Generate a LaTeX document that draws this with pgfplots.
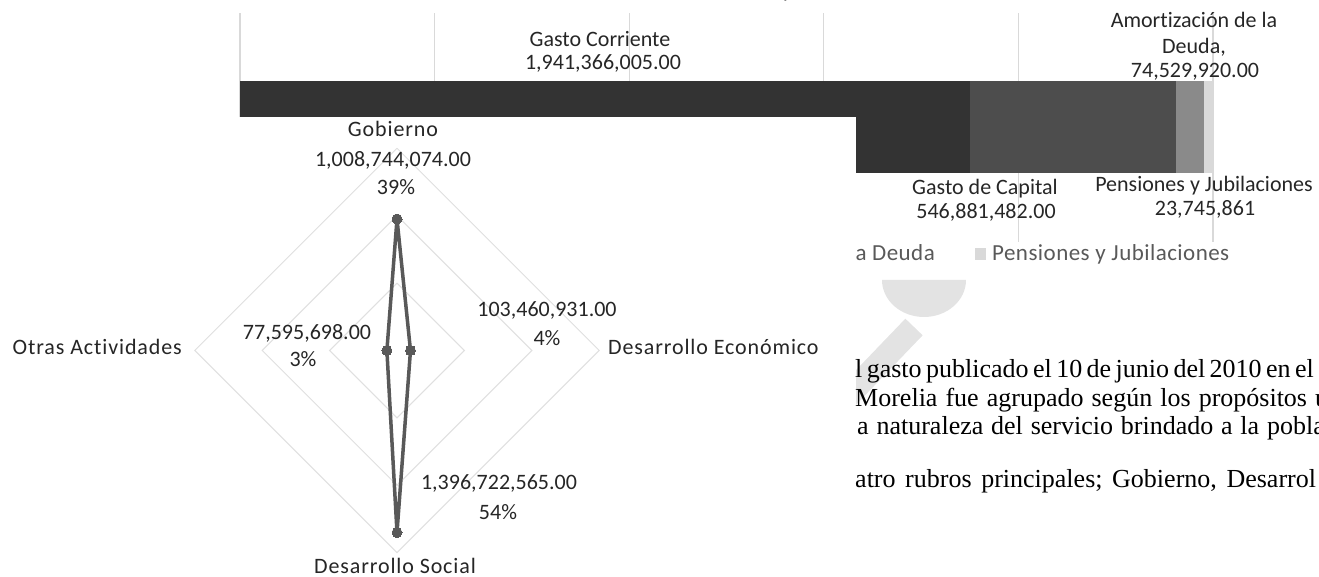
\documentclass[border=0pt]{standalone}
\usepackage{pgfplots}
\pgfplotsset{compat=1.18}
\usepackage{fontspec}
\setmainfont{Carlito}[Ligatures=NoCommon]
\newfontfamily\serifbody{Liberation Serif}
\newfontfamily\catfont{Carlito}[Ligatures=NoCommon, LetterSpace=4]
\newfontfamily\legfont{Carlito}[Ligatures=NoCommon, LetterSpace=2]
\definecolor{cCorr}{HTML}{333333}
\definecolor{cCap}{HTML}{4D4D4D}
\definecolor{cAmo}{HTML}{8A8A8A}
\definecolor{cPen}{HTML}{D9D9D9}
\definecolor{gridc}{HTML}{D9D9D9}
\definecolor{ringc}{HTML}{E0E0E0}
\definecolor{lblc}{HTML}{262626}
\definecolor{legc}{HTML}{595959}
\definecolor{radc}{HTML}{595959}
\definecolor{wmark}{HTML}{E3E3E3}
\tikzset{lbl/.style={font=\fontsize{22}{26}\selectfont, text=lblc},
         cat/.style={font=\catfont\fontsize{22}{26}\selectfont, text=lblc}}
\begin{document}
\begin{tikzpicture}
\useasboundingbox (0pt,0pt) rectangle (1319pt,577pt);
\clip (0pt,0pt) rectangle (1319pt,577pt);
% ---------- stacked 100% bar chart ----------
\begin{axis}[
  at={(240pt,335pt)}, anchor=south west, scale only axis,
  width=973pt, height=229pt,
  xmin=0, xmax=100, ymin=-1, ymax=1,
  xbar stacked, bar width=92pt,
  xtick={0,20,40,60,80,100}, xticklabels={}, ytick=\empty,
  xmajorgrids, grid style={draw=gridc, line width=1.2pt},
  axis line style={draw=none}, major tick length=0pt,
  clip=false,
]
\addplot[fill=cCorr, draw=none] coordinates {(75.057,0)};
\addplot[fill=cCap, draw=none] coordinates {(21.144,0)};
\addplot[fill=cAmo, draw=none] coordinates {(2.881,0)};
\addplot[fill=cPen, draw=none] coordinates {(0.918,0)};
\end{axis}
% bar data labels
\node[anchor=base, lbl] at (600pt,530pt) {Gasto Corriente};
\node[anchor=base, lbl] at (603pt,507pt) {1,941,366,005.00};
\node[anchor=base, lbl] at (1194pt,549pt) {Amortización de la};
\node[anchor=base, lbl] at (1194pt,523pt) {Deuda,};
\node[anchor=base, lbl] at (1195pt,499pt) {74,529,920.00};
\node[anchor=base, lbl] at (985pt,382pt) {Gasto de Capital};
\node[anchor=base, lbl] at (986pt,358pt) {546,881,482.00};
\node[anchor=base, lbl] at (1204pt,385pt) {Pensiones y Jubilaciones};
\node[anchor=base, lbl] at (1205pt,361pt) {23,745,861};
% partially visible title descender
\node[anchor=base, lbl] at (787pt,579pt) {y};
% legend (left entries are hidden by the radar panel)
\node[anchor=base east, inner sep=0pt, text=legc, font=\legfont\fontsize{23}{26}\selectfont] at (935pt,316pt) {a Deuda};
\fill[cPen] (975pt,317pt) rectangle (986pt,329pt);
\node[anchor=base west, inner sep=0pt, text=legc, font=\legfont\fontsize{23}{26}\selectfont] at (992pt,316pt) {Pensiones y Jubilaciones};
% watermark
\draw[wmark, line width=24pt, line cap=butt] (914pt,250pt) -- (842pt,175pt);
\fill[wmark] (882pt,297pt) arc[start angle=180, end angle=360, x radius=42pt, y radius=37pt] -- cycle;
% ---------- white panel of the radar chart ----------
\fill[white] (0pt,0pt) rectangle (856pt,460pt);
% ---------- radar chart ----------
\begin{axis}[
  at={(397pt,226.5pt)}, anchor=center,
  x=3.37pt, y=3.37pt,
  xmin=-62, xmax=62, ymin=-62, ymax=62,
  hide axis, clip=false,
]
\addplot[ringc, line width=1pt] coordinates {(0,20) (20,0) (0,-20) (-20,0) (0,20)};
\addplot[ringc, line width=1pt] coordinates {(0,40) (40,0) (0,-40) (-40,0) (0,40)};
\addplot[ringc, line width=1pt] coordinates {(0,60) (60,0) (0,-60) (-60,0) (0,60)};
% Gobierno 39%, Desarrollo Economico 4%, Desarrollo Social 54%, Otras Actividades 3%
\addplot[radc, line width=3.5pt, line join=round, mark=*, mark size=5pt,
  mark options={fill=radc, draw=radc, line width=0pt}]
  coordinates {(0,39) (4,0) (0,-54) (-3,0) (0,39)};
\end{axis}
% radar labels
\node[anchor=base, cat] at (393pt,440pt) {Gobierno};
\node[anchor=base, lbl] at (393pt,410pt) {1,008,744,074.00};
\node[anchor=base, lbl] at (396pt,382pt) {39\%};
\node[anchor=base, lbl] at (547pt,260pt) {103,460,931.00};
\node[anchor=base, lbl] at (547pt,231pt) {4\%};
\node[anchor=base, lbl] at (307pt,237pt) {77,595,698.00};
\node[anchor=base, lbl] at (303pt,210pt) {3\%};
\node[anchor=base, lbl] at (499pt,87pt) {1,396,722,565.00};
\node[anchor=base, lbl] at (498pt,57pt) {54\%};
\node[anchor=base, cat] at (395pt,3pt) {Desarrollo Social};
\node[anchor=base east, inner sep=0pt, cat] at (182pt,222pt) {Otras Actividades};
\node[anchor=base west, inner sep=0pt, cat] at (608pt,222pt) {Desarrollo Económico};
% ---------- body text (cropped) ----------
\begin{scope}[every node/.style={anchor=base west, inner sep=0pt, font=\serifbody\fontsize{26}{29}\selectfont}]
\node at (855pt,199pt) {\spaceskip=0.17em l gasto publicado el 10 de junio del 2010 en el};
\node at (855pt,170.5pt) {\spaceskip=0.31em Morelia fue agrupado según los propósitos u};
\node at (857pt,142pt) {\spaceskip=0.30em a naturaleza del servicio brindado a la pobla};
\node at (855pt,89pt) {\spaceskip=0.37em atro rubros principales; Gobierno, Desarrol};
\end{scope}
\end{tikzpicture}
\end{document}
